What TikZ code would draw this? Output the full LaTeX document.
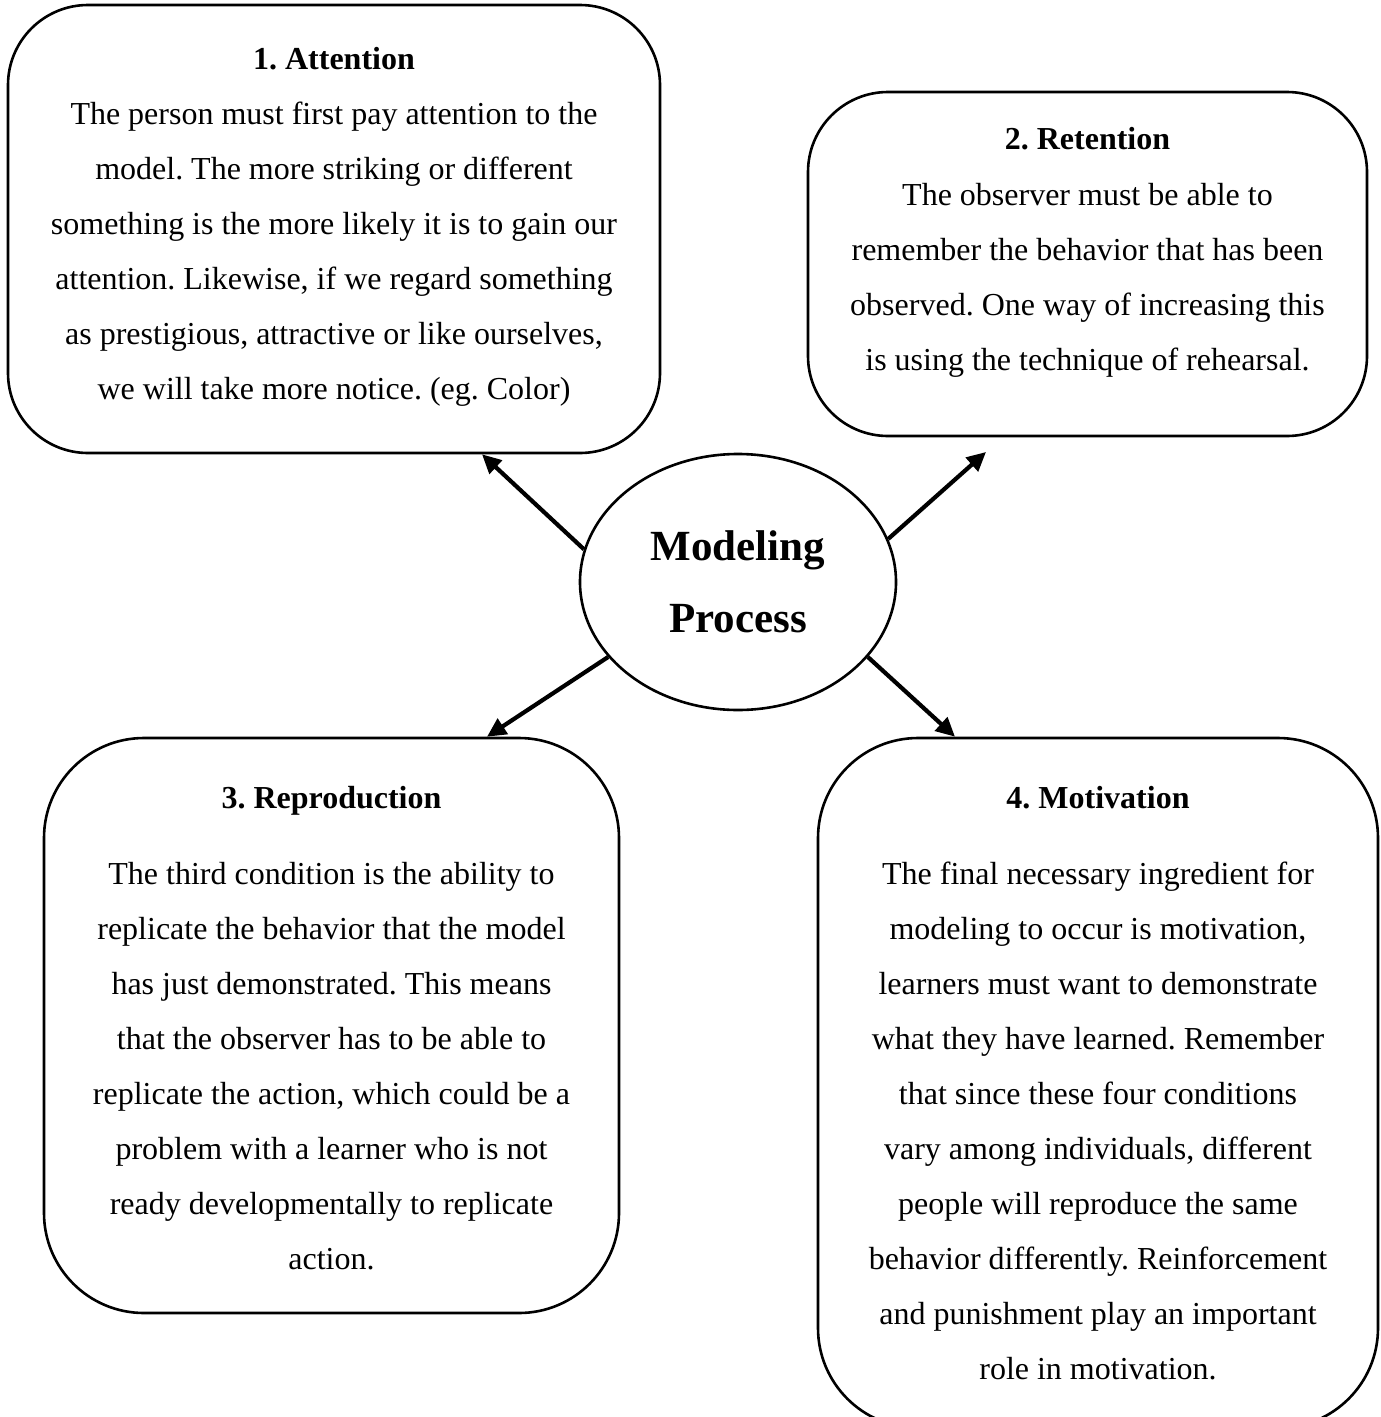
\documentclass[tikz,border=0pt]{standalone}
\usepackage{fontspec}
\setmainfont{Liberation Serif}
\usetikzlibrary{arrows.meta,shapes.geometric}
\begin{document}
\frenchspacing
\begin{tikzpicture}[x=1pt,y=-1pt,
  card/.style={draw,line width=2.6pt,rounded corners=#1,inner sep=0pt},
  ttl/.style={anchor=base,inner sep=0pt,font=\fontsize{32}{55}\selectfont\bfseries},
  body/.style={anchor=base,inner sep=0pt,align=center,font=\fontsize{32}{55}\selectfont\frenchspacing},
  arr/.style={line width=4.2pt,-{Triangle[length=19pt,width=18pt]}}]
\useasboundingbox (0,0) rectangle (1381,1417);
% boxes
\node[card=80pt,minimum width=652pt,minimum height=448pt] (box1) at (334,229) {};
\node[card=80pt,minimum width=559pt,minimum height=344pt] (box2) at (1087.5,264) {};
\node[card=100pt,minimum width=575pt,minimum height=575pt] (box3) at (331.5,1025.5) {};
\node[card=100pt,minimum width=560pt,minimum height=690pt] (box4) at (1098,1083) {};
% centre
\node[draw,ellipse,line width=2.6pt,minimum width=316pt,minimum height=256pt,inner sep=0pt,
      align=center,font=\fontsize{43}{72}\selectfont\bfseries] (ell) at (738,582) {Modeling\\Process};
% texts (base anchor = baseline of the last line)
\node[ttl] (t1) at (334,69) {1. Attention};
\node[body] (b1) at (334,399) {The person must first pay attention to the\\model. The more striking or different\\something is the more likely it is to gain our\\attention. Likewise, if we regard something\\as prestigious, attractive or like ourselves,\\we will take more notice. (eg. Color)};
\node[ttl] (t2) at (1087.5,149) {2. Retention};
\node[body] (b2) at (1087.5,370) {The observer must be able to\\remember the behavior that has been\\observed. One way of increasing this\\is using the technique of rehearsal.};
\node[ttl] (t3) at (331.5,808) {3. Reproduction};
\node[body] (b3) at (331.5,1269) {The third condition is the ability to\\replicate the behavior that the model\\has just demonstrated. This means\\that the observer has to be able to\\replicate the action, which could be a\\problem with a learner who is not\\ready developmentally to replicate\\action.};
\node[ttl] (t4) at (1098,808) {4. Motivation};
\node[body] (b4) at (1098,1379) {The final necessary ingredient for\\modeling to occur is motivation,\\learners must want to demonstrate\\what they have learned. Remember\\that since these four conditions\\vary among individuals, different\\people will reproduce the same\\behavior differently. Reinforcement\\and punishment play an important\\role in motivation.};
% arrows
\coordinate (e2) at (986,452);
\draw[arr] (ell.168) -- (482,0 |- box1.south);
\draw[arr] (ell.16) -- (e2);
\draw[arr] (ell.210) -- (487,0 |- box3.north);
\draw[arr] (ell.-30) -- (955,0 |- box4.north);
\end{tikzpicture}
\end{document}
